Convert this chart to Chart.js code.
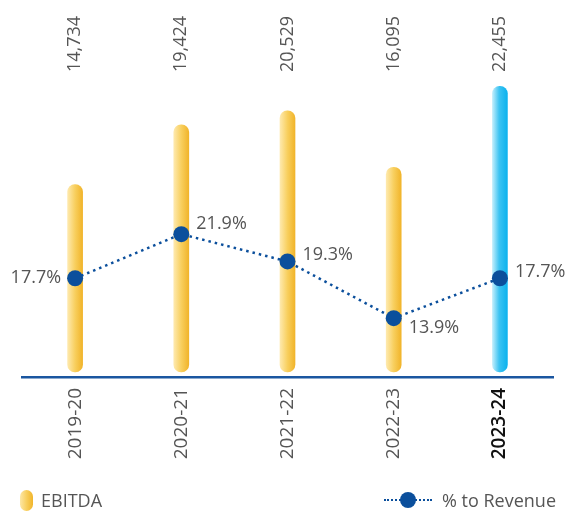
<!DOCTYPE html>
<html>
<head>
<meta charset="utf-8">
<script src="https://cdn.jsdelivr.net/npm/chart.js@4.4.1/dist/chart.umd.min.js"></script>
<style>
  html, body { margin: 0; padding: 0; background: #fff; }
  #wrap { position: relative; width: 568px; height: 515px; }
  .leyenda { position: absolute; top: 488px; height: 24px; font-family: "Open Sans", sans-serif; font-size: 18px; color: #555; display: flex; align-items: center; }
  .pill { display: inline-block; width: 13px; height: 21px; border-radius: 7px; margin-right: 8px;
          background: linear-gradient(to right, #fde7a6, #f8cf5f 50%, #f1b52a); }
  .dotline { position: relative; display: inline-block; width: 48px; height: 0; border-top: 2px dotted #0b4f9c; margin-right: 10px; }
  .dotline::after { content: ""; position: absolute; left: 16px; top: -9px; width: 16px; height: 16px; border-radius: 50%; background: #0b4f9c; }
</style>
</head>
<body>
<div id="wrap">
  <canvas id="grafico" width="568" height="515"></canvas>
  <div class="leyenda" style="left:20px"><span class="pill"></span>EBITDA</div>
  <div class="leyenda" style="right:12px"><span class="dotline"></span>% to Revenue</div>
</div>
<script>
// datos del grafico
var anios = ["2019-20", "2020-21", "2021-22", "2022-23", "2023-24"];
var ebitda = [14734, 19424, 20529, 16095, 22455];
var porcentaje = [17.7, 21.9, 19.3, 13.9, 17.7];

Chart.defaults.font.family = "'Open Sans', sans-serif";
Chart.defaults.font.size = 18;
Chart.defaults.color = "#555";

// gradiente horizontal para cada barra
function colorBarra(context) {
    var chart = context.chart;
    var ultimo = context.dataIndex === ebitda.length - 1;
    if (!chart.chartArea) {
        return ultimo ? "#1ab8ef" : "#f5c443";
    }
    var x = chart.scales.x.getPixelForValue(context.dataIndex);
    var g = chart.ctx.createLinearGradient(x - 7.5, 0, x + 7.5, 0);
    if (ultimo) {
        g.addColorStop(0, "#c2eefc");
        g.addColorStop(0.45, "#3cc3f2");
        g.addColorStop(1, "#0bb2ee");
    } else {
        g.addColorStop(0, "#fee9ad");
        g.addColorStop(0.5, "#f8cf5e");
        g.addColorStop(1, "#f1b42a");
    }
    return g;
}

// etiquetas de valores (arriba) y porcentajes
var etiquetasPlugin = {
    id: "etiquetas",
    afterDatasetsDraw: function (chart) {
        var ctx = chart.ctx;
        var xScale = chart.scales.x;
        var lineMeta = chart.getDatasetMeta(1);
        ctx.save();
        ctx.font = "18px 'Open Sans', sans-serif";
        ctx.fillStyle = "#555";

        // valores EBITDA rotados
        ebitda.forEach(function (v, i) {
            var x = xScale.getPixelForValue(i);
            ctx.save();
            ctx.translate(x, 72);
            ctx.rotate(-Math.PI / 2);
            ctx.textAlign = "left";
            ctx.textBaseline = "middle";
            ctx.fillText(v.toLocaleString("en-US"), 0, 0);
            ctx.restore();
        });

        // porcentajes junto a los puntos
        var desplazY = [0, -10, -7, 10, -6];
        ctx.textBaseline = "middle";
        lineMeta.data.forEach(function (p, i) {
            var texto = porcentaje[i].toFixed(1) + "%";
            if (i === 0) {
                ctx.textAlign = "right";
                ctx.fillText(texto, p.x - 14, p.y + desplazY[i]);
            } else {
                ctx.textAlign = "left";
                ctx.fillText(texto, p.x + 15, p.y + desplazY[i]);
            }
        });
        ctx.restore();
    }
};

var ctx = document.getElementById("grafico").getContext("2d");
new Chart(ctx, {
    data: {
        labels: anios,
        datasets: [{
            type: "bar",
            label: "EBITDA",
            data: ebitda,
            yAxisID: "y",
            backgroundColor: colorBarra,
            barThickness: 15,
            borderRadius: 8,
            borderSkipped: false,
            order: 1
        }, {
            type: "line",
            label: "% to Revenue",
            data: porcentaje,
            yAxisID: "y2",
            borderColor: "#0b4f9c",
            borderWidth: 2.5,
            borderDash: [2.5, 4],
            backgroundColor: "#0b4f9c",
            pointBackgroundColor: "#0b4f9c",
            pointBorderWidth: 0,
            pointRadius: 8,
            tension: 0,
            order: 0
        }]
    },
    options: {
        responsive: false,
        animation: false,
        layout: { padding: { top: 54, left: 22, right: 15, bottom: 0 } },
        plugins: {
            legend: { display: false },
            tooltip: { enabled: false }
        },
        scales: {
            x: {
                grid: { display: false, drawTicks: false },
                border: { color: "#1a56a0", width: 2.5 },
                ticks: {
                    minRotation: 90,
                    maxRotation: 90,
                    padding: 11,
                    color: function (c) { return c.index === anios.length - 1 ? "#111" : "#555"; },
                    font: function (c) {
                        return { size: 19, weight: c.index === anios.length - 1 ? "600" : "normal" };
                    }
                },
                afterFit: function (scale) { scale.height = 138; }
            },
            y: { display: false, min: -400, max: 25000 },
            y2: { display: false, position: "right", min: 8.3, max: 39.05, grid: { display: false } }
        }
    },
    plugins: [etiquetasPlugin]
});
</script>
</body>
</html>
